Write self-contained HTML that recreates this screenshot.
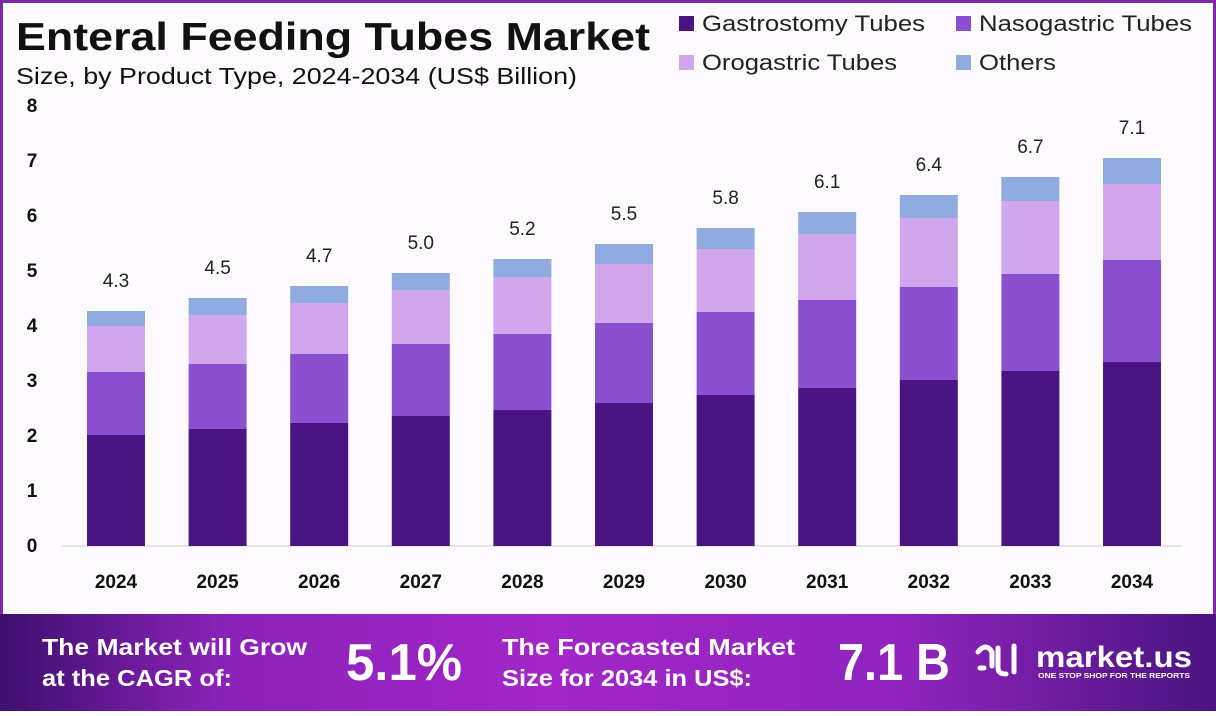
<!DOCTYPE html>
<html><head><meta charset="utf-8"><style>
body{margin:0;width:1216px;height:711px;overflow:hidden;background:#fff;font-family:"Liberation Sans",sans-serif}
</style></head><body>
<svg width="1216" height="711" xmlns="http://www.w3.org/2000/svg" font-family="Liberation Sans, sans-serif">
<defs>
<linearGradient id="bg" x1="0" x2="1" y1="0" y2="0">
<stop offset="0" stop-color="#3d0f6e"/><stop offset="0.18" stop-color="#8a22b8"/><stop offset="0.45" stop-color="#a326c8"/><stop offset="0.75" stop-color="#8e24bd"/><stop offset="1" stop-color="#4a1480"/>
</linearGradient>
</defs>
<rect x="0" y="0" width="1216" height="711" fill="#7a2aa6"/>
<rect x="3" y="3" width="1210" height="611" fill="#fdfbfe"/>
<rect x="0" y="614" width="1216" height="97" fill="url(#bg)"/>
<text x="16" y="50" font-size="39" font-weight="bold" fill="#111" textLength="634" lengthAdjust="spacingAndGlyphs">Enteral Feeding Tubes Market</text>
<text x="16" y="84" font-size="23" fill="#111" textLength="561" lengthAdjust="spacingAndGlyphs">Size, by Product Type, 2024-2034 (US$ Billion)</text>
<g font-size="22" fill="#222">
<rect x="679" y="16" width="15" height="15" fill="#4a1583"/><text x="702" y="31" textLength="223" lengthAdjust="spacingAndGlyphs">Gastrostomy Tubes</text>
<rect x="956" y="16" width="15" height="15" fill="#8b4fd0"/><text x="979" y="31" textLength="213" lengthAdjust="spacingAndGlyphs">Nasogastric Tubes</text>
<rect x="679" y="55" width="15" height="15" fill="#d0a6ec"/><text x="702" y="70" textLength="195" lengthAdjust="spacingAndGlyphs">Orogastric Tubes</text>
<rect x="956" y="55" width="15" height="15" fill="#8fabe0"/><text x="979" y="70" textLength="77" lengthAdjust="spacingAndGlyphs">Others</text>
</g>
<g font-size="19" font-weight="bold" fill="#111" text-anchor="middle">
<text x="32" y="112">8</text><text x="32" y="167">7</text><text x="32" y="222">6</text><text x="32" y="277">5</text><text x="32" y="332">4</text><text x="32" y="387">3</text><text x="32" y="442">2</text><text x="32" y="497">1</text><text x="32" y="552">0</text>
</g>
<line x1="62" y1="546" x2="1182" y2="546" stroke="#ccc" stroke-width="1"/>
<g id="bars"></g>
<g font-size="19" font-weight="bold" fill="#111" text-anchor="middle" id="years"></g>
<g font-size="19" fill="#222" text-anchor="middle" id="vals"></g>
<g fill="#fff" font-weight="bold">
<text x="42" y="655" font-size="23" textLength="265" lengthAdjust="spacingAndGlyphs">The Market will Grow</text>
<text x="42" y="686" font-size="23" textLength="190" lengthAdjust="spacingAndGlyphs">at the CAGR of:</text>
<text x="346" y="680" font-size="52" textLength="116" lengthAdjust="spacingAndGlyphs">5.1%</text>
<text x="502" y="655" font-size="23" textLength="293" lengthAdjust="spacingAndGlyphs">The Forecasted Market</text>
<text x="502" y="686" font-size="23" textLength="250" lengthAdjust="spacingAndGlyphs">Size for 2034 in US$:</text>
<text x="838" y="680" font-size="52" textLength="112" lengthAdjust="spacingAndGlyphs">7.1 B</text>
<text x="1036" y="667" font-size="30" textLength="156" lengthAdjust="spacingAndGlyphs">market.us</text>
<text x="1038" y="678" font-size="7" textLength="152" lengthAdjust="spacingAndGlyphs">ONE STOP SHOP FOR THE REPORTS</text>
<path d="M978 652 q8 -10 14 0 v14 M998 648 v20 q0 6 8 6 M1014 646 v26 M980 668 h4" stroke="#fff" stroke-width="5" fill="none" stroke-linecap="round"/>
</g>
</svg>
<script>
var d=[[2024,435,372,326,311,"4.3"],[2025,429,364,315,298,"4.5"],[2026,423,354,303,286,"4.7"],[2027,416,344,290,273,"5.0"],[2028,410,334,277,259,"5.2"],[2029,403,323,264,244,"5.5"],[2030,395,312,249,228,"5.8"],[2031,388,300,234,212,"6.1"],[2032,380,287,218,195,"6.4"],[2033,371,274,201,177,"6.7"],[2034,362,260,184,158,"7.1"]];
var c=["#4a1583","#8b4fd0","#d0a6ec","#8fabe0"],b="",y="",v="";
d.forEach(function(r,i){var cx=116+i*101.6,x=cx-29;var prev=546;
for(var k=0;k<4;k++){var t=r[k+1];b+='<rect x="'+x+'" y="'+t+'" width="58" height="'+(prev-t)+'" fill="'+c[k]+'"/>';prev=t;}
y+='<text x="'+cx+'" y="588">'+r[0]+'</text>';v+='<text x="'+cx+'" y="'+(r[4]-24)+'">'+r[5]+'</text>';});
document.getElementById("bars").innerHTML=b;document.getElementById("years").innerHTML=y;document.getElementById("vals").innerHTML=v;
</script>
</body></html>
